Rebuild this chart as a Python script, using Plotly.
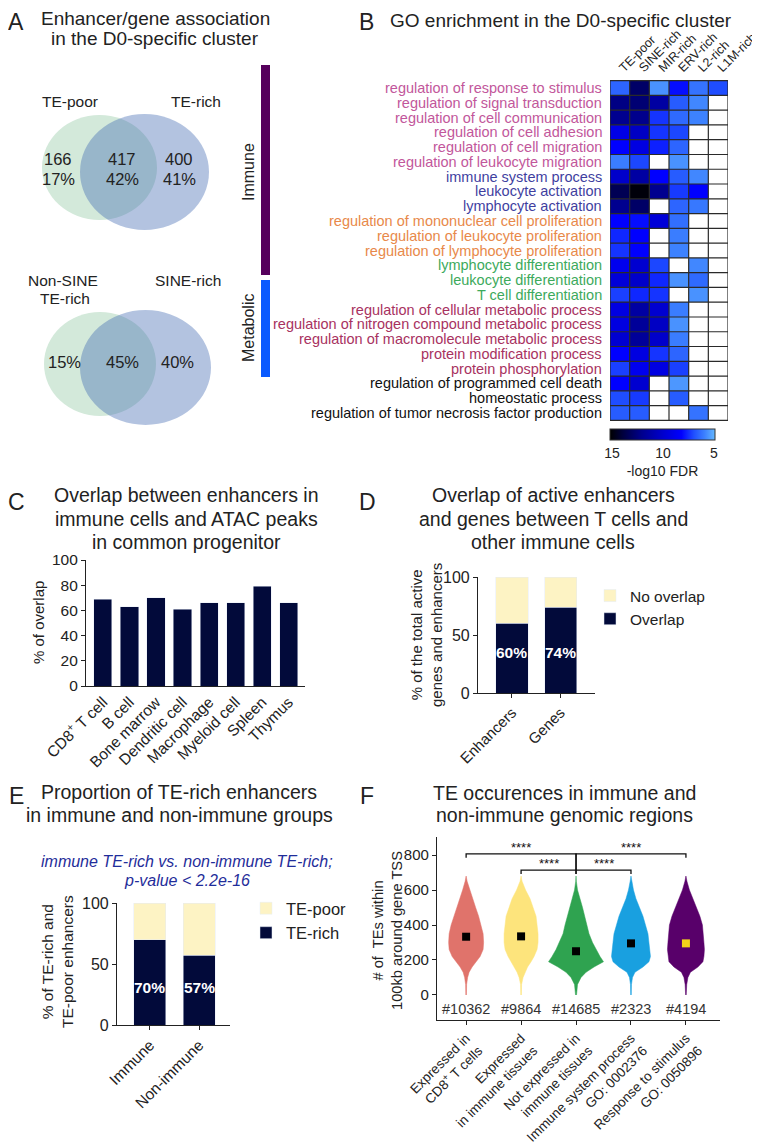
import plotly.graph_objects as go

# reference pixel frame is 760x1147; the page body adds an 8px margin
OFF = 8
W, H = 760 - OFF, 1147 - OFF
def px(x): return (x - OFF) / W
def py(y): return 1 - (y - OFF) / H

FONT = "Liberation Sans"
TXT = "#222222"

# ---------------- Panel A data ----------------
venn1_sets = ["TE-poor", "TE-rich"]
venn1_counts = [166, 417, 400]
venn1_pcts = [17, 42, 41]
venn2_sets = ["Non-SINE<br>TE-rich", "SINE-rich"]
venn2_pcts = [15, 45, 40]
side_groups = ["Immune", "Metabolic"]

# ---------------- Panel B data ----------------
te_classes = ["TE-poor", "SINE-rich", "MIR-rich", "ERV-rich", "L2-rich", "L1M-rich"]
go_terms = [
    "regulation of response to stimulus",
    "regulation of signal transduction",
    "regulation of cell communication",
    "regulation of cell adhesion",
    "regulation of cell migration",
    "regulation of leukocyte migration",
    "immune system process",
    "leukocyte activation",
    "lymphocyte activation",
    "regulation of mononuclear cell proliferation",
    "regulation of leukocyte proliferation",
    "regulation of lymphocyte proliferation",
    "lymphocyte differentiation",
    "leukocyte differentiation",
    "T cell differentiation",
    "regulation of cellular metabolic process",
    "regulation of nitrogen compound metabolic process",
    "regulation of macromolecule metabolic process",
    "protein modification process",
    "protein phosphorylation",
    "regulation of programmed cell death",
    "homeostatic process",
    "regulation of tumor necrosis factor production",
]
term_group = (["regulation"] * 6 + ["activation"] * 3 + ["proliferation"] * 3
              + ["differentiation"] * 3 + ["metabolic"] * 5 + ["other"] * 3)
group_color = {"regulation": "#c2579b", "activation": "#3f3f9f", "proliferation": "#e8894a",
               "differentiation": "#3daa5c", "metabolic": "#a8325f", "other": "#111111"}
N = None
neglog10_fdr = [
    [6.5, 13.0, 5.6, 8.0, 6.2, 7.0],
    [12.3, 12.7, 11.4, 6.7, 5.8, N],
    [12.0, 12.1, 7.4, 6.4, 5.9, N],
    [9.1, 10.3, 7.4, 7.1, N, N],
    [8.2, 9.3, 7.7, 6.5, N, N],
    [6.0, 7.1, N, 5.6, N, N],
    [10.1, 11.4, 8.2, 6.7, 5.8, N],
    [13.4, 15.0, 12.0, 7.3, 8.2, N],
    [12.0, 13.0, N, 6.5, 6.1, N],
    [8.2, 8.0, 9.6, 6.3, N, N],
    [7.6, 8.2, N, 6.0, N, N],
    [7.4, 8.2, N, 5.9, N, N],
    [8.8, 9.9, 7.1, N, 5.8, N],
    [9.6, 10.1, 7.6, 5.6, 6.4, N],
    [7.2, 7.6, 7.4, N, 5.6, N],
    [9.3, 11.4, 9.9, 6.0, N, N],
    [9.3, 11.7, 10.3, 5.6, N, N],
    [9.9, 11.7, 10.1, 6.0, N, N],
    [8.2, 9.3, 7.4, 6.5, N, N],
    [7.2, 8.8, 9.3, 7.2, N, N],
    [8.2, 9.9, N, 5.5, N, N],
    [7.0, 7.3, N, 6.7, N, N],
    [6.7, 6.7, N, N, 6.2, N],
]
cbar_ticks = [15, 10, 5]

# ---------------- Panel C data ----------------
cell_types = ["CD8<sup>+</sup> T cell", "B cell", "Bone marrow", "Dendritic cell",
              "Macrophage", "Myeloid cell", "Spleen", "Thymus"]
overlap_pct = [69, 63, 70, 61, 66, 66, 79, 66]

# ---------------- Panel D data ----------------
d_cats = ["Enhancers", "Genes"]
d_overlap = [60, 74]
d_no_overlap = [40, 26]

# ---------------- Panel E data ----------------
e_cats = ["Immune", "Non-immune"]
e_te_rich = [70, 57]
e_te_poor = [30, 43]

# ---------------- Panel F data ----------------
f_groups = ["Expressed in<br>CD8<sup>+</sup> T cells", "Expressed<br>in immune tissues",
            "Not expressed in<br>immune tissues", "Immune system process<br>GO: 0002376",
            "Response to stimulus<br>GO: 0050896"]
f_n = [10362, 9864, 14685, 2323, 4194]
f_median = [333, 335, 250, 295, 295]
f_colors = ["#e0736b", "#fde47c", "#2fa350", "#19a0e0", "#58006a"]
f_median_colors = ["#000000", "#000000", "#000000", "#000000", "#f2d21a"]
te_grid = [0, 60, 100, 130, 160, 190, 220, 260, 300, 350, 400, 450, 500, 550, 600, 650, 680]
f_density = [
    [0.3, 0.5, 1.5, 3, 6, 10, 14, 17, 17.5, 17, 15, 12.5, 9.5, 6.5, 3.5, 1, 0],
    [0.3, 0.5, 2, 4, 6.5, 10, 13, 16, 17, 17, 16, 15, 12, 9, 4.5, 1, 0],
    [0.5, 1.5, 5, 10, 18, 27.5, 24, 20, 16.5, 13, 11, 9, 6.5, 4, 1.5, 0.3, 0],
    [0.3, 0.5, 1.5, 4, 12, 18, 19.5, 18.5, 18, 17, 14.5, 12, 8.5, 5, 2.5, 0.8, 0],
    [0.3, 0.8, 2, 4.5, 12, 17, 18, 18.5, 18, 17.5, 16.5, 14, 10.5, 7, 3.5, 1, 0],
]
sig_pairs = [(0, 2, 806), (2, 4, 806), (1, 2, 714), (2, 3, 714)]
sig_label = "****"

NAVY = "#020a3a"
CREAM = "#fdf3c4"

fig = go.Figure()
ann = []
shapes = []

def text(x, y, t, size, color=TXT, **kw):
    d = dict(x=px(x), y=py(y), xref="paper", yref="paper", text=t, showarrow=False,
             xanchor="center", yanchor="middle",
             font=dict(family=FONT, size=size, color=color))
    d.update(kw)
    ann.append(d)

def lines(x, ys, ts, size, color=TXT, **kw):
    for y, t in zip(ys, ts):
        text(x, y, t, size, color, **kw)

# Panel letters and titles
for L, x, y in [("A", 16, 22), ("B", 366, 22), ("C", 16, 502), ("D", 367, 502), ("E", 16, 796), ("F", 367, 796)]:
    text(x, y, L, 23)
TS = 19.5
lines(155, [19, 38], ["Enhancer/gene association", "in the D0-specific cluster"], 19)
text(561, 21, "GO enrichment in the D0-specific cluster", 19)
lines(186, [495, 519, 542], ["Overlap between enhancers in", "immune cells and ATAC peaks",
                             "in common progenitor"], TS)
lines(553, [495, 519, 542], ["Overlap of active enhancers", "and genes between T cells and",
                             "other immune cells"], TS)
lines(179, [792, 815], ["Proportion of TE-rich enhancers", "in immune and non-immune groups"], TS)
lines(564, [793, 815], ["TE occurences in immune and", "non-immune genomic regions"], TS)

# ---------------- Panel A ----------------
def venn(gbox, bbox):
    shapes.append(dict(type="circle", xref="paper", yref="paper", x0=px(gbox[0]), x1=px(gbox[1]),
                       y0=py(gbox[3]), y1=py(gbox[2]), fillcolor="#d3e9da", line=dict(width=0)))
    shapes.append(dict(type="circle", xref="paper", yref="paper", x0=px(bbox[0]), x1=px(bbox[1]),
                       y0=py(bbox[3]), y1=py(bbox[2]), fillcolor="rgb(65,105,178)", opacity=0.4,
                       line=dict(width=0)))

venn((42, 157, 115, 220), (80, 209, 114, 230))
venn((44, 156, 312, 416), (80, 211, 310, 425))
text(70, 102, venn1_sets[0], 15.5)
text(196, 102, venn1_sets[1], 15.5)
for cx, c, p in zip([58, 122, 179], venn1_counts, venn1_pcts):
    lines(cx, [159, 179], [str(c), f"{p}%"], 16.5)
nonsine = venn2_sets[0].split("<br>")
text(63, 281, nonsine[0], 15.5)
text(65, 298, nonsine[1], 15.5)
text(188, 281, venn2_sets[1], 15.5)
for cx, p in zip([64, 122, 177], venn2_pcts):
    text(cx, 362, f"{p}%", 16.5)

shapes.append(dict(type="rect", xref="paper", yref="paper", x0=px(261), x1=px(270), y0=py(275), y1=py(65),
                   fillcolor="#56005c", line=dict(width=0)))
shapes.append(dict(type="rect", xref="paper", yref="paper", x0=px(261), x1=px(270), y0=py(377), y1=py(280),
                   fillcolor="#0a5aff", line=dict(width=0)))
text(248, 172, side_groups[0], 16, textangle=-90)
text(248, 328, side_groups[1], 16, textangle=-90)

# ---------------- Panel B ----------------
zneg = [[(-v if v is not None else None) for v in row] for row in neglog10_fdr]
cscale = [[0, "#000000"], [0.12, "#00003c"], [0.3, "#00008c"], [0.5, "#0000cc"], [0.68, "#0000ff"],
          [0.8, "#2050ff"], [0.9, "#3c80ff"], [1.0, "#64b8ff"]]
fig.add_trace(go.Heatmap(
    z=zneg, x=te_classes, y=go_terms, xaxis="x5", yaxis="y5", colorscale=cscale,
    zmin=-15.2, zmax=-4.9, hoverongaps=False,
    colorbar=dict(orientation="h", x=px(610), xanchor="left", len=105 / W, lenmode="fraction",
                  y=py(429), yanchor="top", thickness=11, thicknessmode="pixels", xpad=0, ypad=0,
                  outlinewidth=1, outlinecolor="#333", tickvals=[-t for t in cbar_ticks],
                  ticktext=[str(t) for t in cbar_ticks], ticks="",
                  tickfont=dict(family=FONT, size=14, color=TXT),
                  title=dict(text="-log10 FDR", side="bottom", font=dict(family=FONT, size=14, color=TXT))),
    showlegend=False))
for i in range(len(te_classes) + 1):
    shapes.append(dict(type="line", xref="x5", yref="y5", x0=i - 0.5, x1=i - 0.5, y0=-0.5,
                       y1=len(go_terms) - 0.5, line=dict(color="#2a2a2a", width=1.2)))
for j in range(len(go_terms) + 1):
    shapes.append(dict(type="line", xref="x5", yref="y5", x0=-0.5, x1=len(te_classes) - 0.5, y0=j - 0.5,
                       y1=j - 0.5, line=dict(color="#2a2a2a", width=1.2)))
for term, g in zip(go_terms, term_group):
    ann.append(dict(x=px(604), xref="paper", y=term, yref="y5", text=term, showarrow=False,
                    xanchor="right", yanchor="middle",
                    font=dict(family=FONT, size=14.5, color=group_color[g])))

# ---------------- Panel C ----------------
fig.add_trace(go.Bar(x=cell_types, y=overlap_pct, marker_color=NAVY, width=0.68,
                     xaxis="x", yaxis="y", showlegend=False))
text(38, 623, "% of overlap", 15, textangle=-90)

# ---------------- Panel D ----------------
fig.add_trace(go.Bar(x=d_cats, y=d_overlap, name="Overlap", marker_color=NAVY, width=0.66,
                     xaxis="x2", yaxis="y2", legend="legend"))
fig.add_trace(go.Bar(x=d_cats, y=d_no_overlap, name="No overlap", marker_color=CREAM, width=0.66,
                     xaxis="x2", yaxis="y2", legend="legend"))
for c, v in zip(d_cats, d_overlap):
    ann.append(dict(x=c, y=35, xref="x2", yref="y2", text=f"<b>{v}%</b>", showarrow=False,
                    font=dict(family=FONT, size=15.5, color="white")))
text(426, 635, "% of the total active<br>genes and enhancers", 15, textangle=-90)

# ---------------- Panel E ----------------
fig.add_trace(go.Bar(x=e_cats, y=e_te_rich, name="TE-rich", marker_color=NAVY, width=0.65,
                     xaxis="x3", yaxis="y3", legend="legend2"))
fig.add_trace(go.Bar(x=e_cats, y=e_te_poor, name="TE-poor", marker_color=CREAM, width=0.65,
                     xaxis="x3", yaxis="y3", legend="legend2"))
for c, v in zip(e_cats, e_te_rich):
    ann.append(dict(x=c, y=31, xref="x3", yref="y3", text=f"<b>{v}%</b>", showarrow=False,
                    font=dict(family=FONT, size=15.5, color="white")))
lines(187, [861, 880], ["<i>immune TE-rich vs. non-immune TE-rich;</i>", "<i>p-value &lt; 2.2e-16</i>"],
      16, color="#1f2d9a")
text(57, 962, "% of TE-rich and<br>TE-poor enhancers", 15.5, textangle=-90)

# ---------------- Panel F ----------------
dmax = max(max(d) for d in f_density)
for g, (dens, col) in enumerate(zip(f_density, f_colors)):
    hw = [0.5 * d / dmax for d in dens]
    xs = [g + w for w in hw] + [g - w for w in reversed(hw)]
    ys = te_grid + list(reversed(te_grid))
    fig.add_trace(go.Scatter(x=xs, y=ys, fill="toself", fillcolor=col, mode="lines",
                             line=dict(color=col, width=0.5), xaxis="x4", yaxis="y4", showlegend=False,
                             hoverinfo="skip"))
fig.add_trace(go.Scatter(x=list(range(len(f_groups))), y=f_median, mode="markers",
                         marker=dict(symbol="square", size=8, color=f_median_colors),
                         xaxis="x4", yaxis="y4", showlegend=False))
for g, n in enumerate(f_n):
    ann.append(dict(x=g, y=-80, xref="x4", yref="y4", text=f"#{n}", showarrow=False,
                    font=dict(family=FONT, size=14.5, color="#333")))
drop = 22
for (i, j, lev) in sig_pairs:
    def end_y(k):
        lower = [l for (a, b, l) in sig_pairs if l < lev and k in (a, b)]
        return max(lower) if lower else lev - drop
    fig.add_trace(go.Scatter(x=[i, i, j, j], y=[end_y(i), lev, lev, end_y(j)], mode="lines",
                             line=dict(color="#111", width=1.3), xaxis="x4", yaxis="y4",
                             showlegend=False, hoverinfo="skip"))
    ann.append(dict(x=(i + j) / 2, y=lev, xref="x4", yref="y4", text=sig_label, showarrow=False,
                    yanchor="bottom", yshift=-3, font=dict(family=FONT, size=13, color="#111")))
text(387, 931, "# of  TEs within<br>100kb around gene TSS", 14.7, textangle=-90)

# ---------------- Axes ----------------
tf = lambda s: dict(family=FONT, size=s, color=TXT)
base_x = dict(showgrid=False, zeroline=False, showline=True, linecolor="#222", linewidth=1.2)
base_y = dict(showgrid=False, zeroline=False, showline=True, linecolor="#222", linewidth=1.2,
              ticks="outside", ticklen=4, tickcolor="#222")

fig.update_layout(
    width=W, height=H, margin=dict(l=0, r=0, t=0, b=0, autoexpand=False),
    paper_bgcolor="white", plot_bgcolor="white", barmode="stack",
    font=dict(family=FONT, color=TXT),
    xaxis=dict(base_x, domain=[px(86), px(305)], anchor="y", range=[-0.64, 7.62], tickangle=-45,
               tickfont=tf(15.5), ticks=""),
    yaxis=dict(base_y, domain=[py(686), py(560)], anchor="x", range=[0, 100],
               tickvals=[0, 20, 40, 60, 80, 100], tickfont=tf(15.5)),
    xaxis2=dict(base_x, domain=[px(478), px(595)], anchor="y2", range=[-0.7, 1.71], tickangle=-45,
                tickfont=tf(15), ticks="outside", ticklen=4, tickcolor="#222"),
    yaxis2=dict(base_y, domain=[py(693), py(577)], anchor="x2", range=[0, 100], tickvals=[0, 50, 100],
                tickfont=tf(16)),
    xaxis3=dict(base_x, domain=[px(117), px(230)], anchor="y3", range=[-0.67, 1.63], tickangle=-45,
                tickfont=tf(15.5), ticks="outside", ticklen=4, tickcolor="#222"),
    yaxis3=dict(base_y, domain=[py(1025), py(903)], anchor="x3", range=[0, 100], tickvals=[0, 50, 100],
                tickfont=tf(16)),
    xaxis4=dict(base_x, domain=[px(437), px(720)], anchor="y4", range=[-0.53, 4.62],
                tickvals=list(range(len(f_groups))), ticktext=f_groups, tickangle=-45, tickfont=tf(13.5),
                ticks="outside", ticklen=4, tickcolor="#222"),
    yaxis4=dict(base_y, domain=[py(1020), py(837)], anchor="x4", range=[-143, 903],
                tickvals=[0, 200, 400, 600, 800], tickfont=tf(15)),
    xaxis5=dict(domain=[px(610), px(728)], anchor="y5", side="top", tickangle=-45, tickfont=tf(12.5),
                showgrid=False, zeroline=False, showline=False, ticks="", range=[-0.5, 5.5]),
    yaxis5=dict(domain=[py(423), py(78)], anchor="x5", autorange="reversed", showticklabels=False,
                showgrid=False, zeroline=False, showline=False, ticks=""),
    legend=dict(x=px(590), y=py(579), xanchor="left", yanchor="top", traceorder="reversed",
                font=tf(15.5), bgcolor="rgba(0,0,0,0)", tracegroupgap=0),
    legend2=dict(x=px(246), y=py(891), xanchor="left", yanchor="top", traceorder="reversed",
                 font=tf(16.5), bgcolor="rgba(0,0,0,0)", tracegroupgap=0),
    annotations=ann, shapes=shapes,
)

fig.write_html("out.html")
